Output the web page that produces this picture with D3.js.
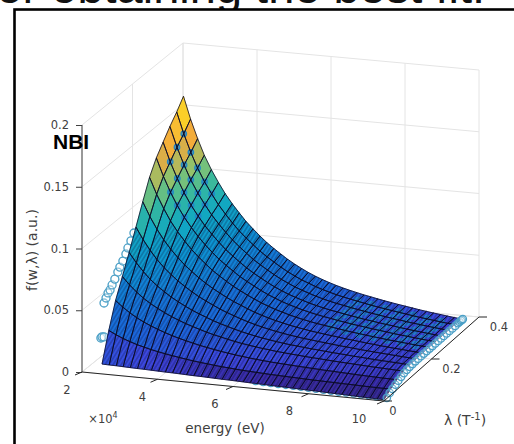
<!DOCTYPE html>
<html>
<head>
<meta charset="utf-8">
<script src="https://cdn.jsdelivr.net/npm/d3@7"></script>
<style>
  html, body { margin: 0; padding: 0; background: #fff; }
  text { font-family: "DejaVu Sans", sans-serif; }
</style>
</head>
<body>
<div id="chart"></div>
<script>
// Axis ticks
const energyTicks = [2, 4, 6, 8, 10];
const lambdaTicks = [0, 0.2, 0.4];
const fTicks = [0, 0.05, 0.1, 0.15, 0.2];

// Surface grid: energy (x 10^4 eV) and lambda (1/T)
const energies = [2.53, 2.72, 2.91, 3.09, 3.28, 3.47, 3.65, 3.84, 4.03, 4.21, 4.40, 4.59, 4.77, 4.96, 5.15, 5.33, 5.52, 5.71, 5.89, 6.08, 6.27, 6.45, 6.64, 6.83, 7.01, 7.20, 7.39, 7.58, 7.76, 7.95, 8.14, 8.32, 8.51, 8.70, 8.88, 9.07, 9.26, 9.45, 9.63, 9.82, 10.0];
const lambdas = [0, 0.027, 0.054, 0.081, 0.108, 0.135, 0.162, 0.189, 0.216, 0.243, 0.27, 0.297, 0.324];

// Surface height f(w, lambda), one list per lambda
const f00 = [.0080,.0078,.0077,.0075,.0073,.0071,.0070,.0068,.0066,.0064,.0063,.0061,.0059,.0057,.0056,.0054,.0052,.0050,.0049,.0047,.0045,.0043,.0042,.0040,.0038,.0036,.0035,.0033,.0031,.0029,.0028,.0026,.0024,.0022,.0021,.0019,.0017,.0015,.0014,.0012,.0010];
const f01 = [.0307,.0278,.0253,.0233,.0214,.0199,.0185,.0173,.0162,.0152,.0143,.0134,.0126,.0119,.0113,.0107,.0101,.0097,.0092,.0088,.0085,.0082,.0079,.0076,.0074,.0072,.0070,.0068,.0066,.0064,.0063,.0061,.0060,.0058,.0057,.0056,.0054,.0053,.0052,.0051,.0050];
const f02 = [.0505,.0457,.0416,.0382,.0352,.0326,.0304,.0283,.0264,.0248,.0233,.0219,.0206,.0195,.0184,.0174,.0165,.0157,.0150,.0143,.0137,.0132,.0127,.0123,.0120,.0116,.0113,.0110,.0107,.0104,.0101,.0099,.0096,.0094,.0091,.0089,.0087,.0085,.0083,.0082,.0080];
const f03 = [.0654,.0592,.0539,.0495,.0456,.0423,.0394,.0367,.0343,.0322,.0303,.0285,.0268,.0253,.0240,.0227,.0215,.0204,.0195,.0187,.0179,.0173,.0166,.0161,.0156,.0152,.0147,.0143,.0140,.0136,.0132,.0129,.0126,.0123,.0120,.0117,.0114,.0112,.0109,.0107,.0105];
const f04 = [.0804,.0726,.0659,.0603,.0554,.0512,.0475,.0442,.0411,.0384,.0360,.0337,.0316,.0297,.0280,.0264,.0249,.0236,.0224,.0213,.0204,.0195,.0187,.0180,.0175,.0169,.0163,.0159,.0154,.0149,.0145,.0141,.0136,.0133,.0129,.0125,.0122,.0119,.0116,.0113,.0110];
const f05 = [.0965,.0869,.0787,.0718,.0658,.0606,.0561,.0520,.0482,.0449,.0419,.0391,.0365,.0342,.0321,.0301,.0283,.0266,.0252,.0239,.0227,.0217,.0207,.0199,.0191,.0185,.0178,.0172,.0166,.0160,.0155,.0150,.0144,.0140,.0135,.0131,.0127,.0123,.0119,.0115,.0112];
const f06 = [.1125,.1011,.0913,.0833,.0761,.0699,.0645,.0597,.0552,.0513,.0477,.0444,.0414,.0386,.0361,.0338,.0315,.0296,.0279,.0264,.0250,.0237,.0226,.0216,.0207,.0199,.0191,.0184,.0177,.0170,.0164,.0158,.0151,.0146,.0140,.0135,.0130,.0126,.0121,.0117,.0113];
const f07 = [.1278,.1146,.1035,.0941,.0859,.0788,.0726,.0670,.0619,.0573,.0532,.0494,.0459,.0428,.0398,.0372,.0346,.0324,.0304,.0287,.0270,.0256,.0243,.0231,.0221,.0212,.0203,.0195,.0186,.0178,.0171,.0164,.0157,.0151,.0144,.0139,.0133,.0128,.0122,.0118,.0113];
const f08 = [.1390,.1246,.1123,.1021,.0930,.0852,.0785,.0723,.0667,.0617,.0573,.0531,.0492,.0458,.0426,.0396,.0368,.0344,.0322,.0303,.0285,.0270,.0255,.0243,.0232,.0222,.0211,.0202,.0193,.0185,.0177,.0169,.0162,.0155,.0147,.0141,.0135,.0129,.0123,.0118,.0113];
const f09 = [.1473,.1319,.1189,.1080,.0983,.0900,.0828,.0763,.0703,.0650,.0603,.0558,.0517,.0480,.0446,.0415,.0385,.0359,.0336,.0316,.0297,.0280,.0265,.0251,.0239,.0229,.0218,.0208,.0199,.0189,.0181,.0173,.0165,.0158,.0150,.0143,.0136,.0130,.0124,.0118,.0113];
const f10 = [.1555,.1392,.1254,.1138,.1036,.0948,.0871,.0802,.0739,.0683,.0632,.0585,.0541,.0502,.0466,.0433,.0401,.0374,.0349,.0328,.0308,.0290,.0274,.0259,.0247,.0236,.0224,.0214,.0204,.0194,.0185,.0176,.0168,.0161,.0152,.0145,.0138,.0131,.0125,.0119,.0113];
const f11 = [.1627,.1456,.1311,.1189,.1082,.0990,.0909,.0837,.0770,.0711,.0658,.0608,.0563,.0522,.0484,.0449,.0416,.0387,.0361,.0339,.0317,.0299,.0282,.0267,.0254,.0242,.0230,.0219,.0208,.0198,.0189,.0180,.0171,.0163,.0154,.0146,.0139,.0132,.0125,.0119,.0113];
const f12 = [.1710,.1530,.1377,.1248,.1136,.1038,.0953,.0876,.0807,.0744,.0688,.0635,.0588,.0545,.0505,.0468,.0434,.0403,.0376,.0351,.0329,.0310,.0292,.0276,.0262,.0249,.0236,.0225,.0214,.0203,.0193,.0184,.0175,.0166,.0157,.0149,.0141,.0134,.0127,.0120,.0114];
const surfaceRows = [f00, f01, f02, f03, f04, f05, f06, f07, f08, f09, f10, f11, f12];

// Measured points along the low-energy side of the surface
const leftE = [2.5, 2.53, 2.53, 2.53, 2.53, 2.53, 2.53, 2.53, 2.53, 2.53, 2.53, 2.53, 2.53, 2.53, 2.53, 2.53];
const leftLam = [0, 0, 0.008, 0.008, 0.016, 0.024, 0.032, 0.04, 0.051, 0.063, 0.071, 0.083, 0.095, 0.103, 0.115, 0.127];
const leftF = [.029, .030, .0286, .0561, .0588, .0616, .0627, .0654, .0683, .072, .0747, .0776, .0813, .0849, .0886, .093];

// Measured points along the high-energy side
const edgeE = [10.05, 10.05, 10.05, 10.05, 10.05, 10.05, 10.05, 10.05, 10.05, 10.05, 10.05, 10.05, 10.05, 10.05, 10.05, 10.05, 10.05, 10.05, 10.05, 10.05, 10.05, 10.05, 10.05, 10.05, 10.05, 10.05, 10.05, 10.05, 10.05, 10.05];
const edgeLam = [0.004, 0.016, 0.028, 0.04, 0.052, 0.064, 0.076, 0.088, 0.1, 0.112, 0.124, 0.136, 0.148, 0.16, 0.172, 0.184, 0.196, 0.208, 0.22, 0.232, 0.244, 0.256, 0.268, 0.28, 0.292, 0.304, 0.31, 0.316, 0.32, 0.324];
const edgeF = [.002, .004, .0052, .0065, .0078, .0088, .0098, .0104, .0108, .011, .0112, .0112, .0113, .0113, .0113, .0113, .0113, .0113, .0113, .0113, .0113, .0113, .0113, .0113, .0113, .0114, .0114, .0114, .0114, .0114];

// Measured points along the front edge
const frontE = [6.6, 6.8, 7.0, 7.2, 7.4, 7.6, 7.8, 8.0, 8.2, 8.4, 8.6, 8.8, 9.0, 9.2, 9.4, 9.6, 9.8];
const frontF = [.0062, .0060, .0058, .0056, .0055, .0053, .0051, .0049, .0047, .0045, .0043, .0041, .0040, .0038, .0036, .0034, .0032];

// Measured points poking through the surface near the peak
const peakE = [2.72, 2.91, 3.09, 3.28, 3.47, 2.72, 2.91, 3.09, 3.28, 3.47, 2.72, 2.91, 3.09, 3.28, 3.47, 2.91, 3.09, 3.28];
const peakLam = [0.297, 0.297, 0.297, 0.297, 0.297, 0.27, 0.27, 0.27, 0.27, 0.27, 0.243, 0.243, 0.243, 0.243, 0.243, 0.216, 0.216, 0.216];
const peakF = [.1456, .1311, .1189, .1082, .099, .1392, .1254, .1138, .1036, .0948, .1319, .1189, .108, .0983, .09, .1123, .1021, .093];

// Measured points poking through near the far high-energy corner
const farE = [7.39, 7.76, 8.14, 8.51, 8.88, 9.26, 9.63];
const farLam = [0.189, 0.216, 0.243, 0.27, 0.297];
const farF = [
  [.0203, .0186, .0171, .0157, .0144, .0133, .0122],
  [.0211, .0193, .0177, .0162, .0147, .0135, .0123],
  [.0218, .0199, .0181, .0165, .015, .0136, .0124],
  [.0224, .0204, .0185, .0168, .0152, .0138, .0125],
  [.023, .0208, .0189, .0171, .0154, .0139, .0125]
];

// Colour ramp of the surface, as seen in the picture
const rampF = [0, 0.006, 0.013, 0.03, 0.05, 0.07, 0.09, 0.105, 0.12, 0.14, 0.155, 0.171];
const rampColor = ["#352a87", "#3a2ba8", "#3c48e0", "#1a68dc", "#1578d8", "#0d94d4", "#12a8c0", "#35b8a0", "#88c470", "#f2a83c", "#fcc52e", "#f9fb0e"];

const width = 514;
const height = 444;

// Declare the scales: 0..1 along each floor edge, pixels for the height.
const u = d3.scaleLinear([2, 10], [0, 1]);
const v = d3.scaleLinear([0, 0.4], [0, 1]);
const zY = d3.scaleLinear([0, 0.2], [372, 125]);
const color = d3.scaleLinear(rampF, rampColor);

// Oblique view with a touch of perspective on the floor.
function project(e, lam, f) {
  const a = u(e), b = v(lam);
  return [82 + 302 * a + 101 * b - 6 * a * b, zY(f) + 29 * a - 82 * b - 2 * a * b];
}

const svg = d3.select("#chart").append("svg")
  .attr("width", width)
  .attr("height", height)
  .attr("viewBox", [0, 0, width, height])
  .style("display", "block");

// Fine hatching of the very dense mesh.
const hatch = svg.append("defs").append("pattern")
  .attr("id", "hatch")
  .attr("patternUnits", "userSpaceOnUse")
  .attr("width", 4).attr("height", 7)
  .attr("patternTransform", "skewX(-32)");
hatch.append("path").attr("d", "M1,0V7").attr("stroke", "#06062a").attr("stroke-width", 1.1).attr("stroke-opacity", 0.42);

// Caption of the slide the figure was cut from, mostly above the frame.
svg.append("text")
  .attr("x", 485).attr("y", 3)
  .attr("text-anchor", "end")
  .attr("fill", "#111")
  .style("font-family", "'Liberation Sans', sans-serif")
  .style("font-size", "47px")
  .text("or obtaining the best fit.");

svg.append("rect")
  .attr("x", 14.5).attr("y", 9.5)
  .attr("width", width + 20).attr("height", height + 20)
  .attr("fill", "#fff")
  .attr("stroke", "#000")
  .attr("stroke-width", 2.6);

const line = d3.line();

// Grid on the floor and the two back walls.
const grid = svg.append("g").attr("fill", "none").attr("stroke", "#e4e4e4").attr("stroke-width", 1);
energyTicks.forEach(e => {
  grid.append("path").attr("d", line([project(e, 0.4, 0), project(e, 0.4, 0.2)]));
  grid.append("path").attr("d", line([project(e, 0, 0), project(e, 0.4, 0)]));
});
lambdaTicks.forEach(l => {
  grid.append("path").attr("d", line([project(2, l, 0), project(2, l, 0.2)]));
  grid.append("path").attr("d", line([project(2, l, 0), project(10, l, 0)]));
});
fTicks.forEach(f => {
  grid.append("path").attr("d", line([project(2, 0, f), project(2, 0.4, f), project(10, 0.4, f)]));
});

// Circles that sit behind the surface.
const markerColor = "#4a9fc6";
const markersBack = svg.append("g").attr("fill", "#fff").attr("fill-opacity", 0.4).attr("stroke", markerColor).attr("stroke-width", 1.3);
leftE.forEach((e, i) => {
  const [px, py] = project(e, leftLam[i], leftF[i]);
  markersBack.append("circle").attr("cx", px).attr("cy", py).attr("r", 4);
});
frontE.forEach((e, i) => {
  const [px, py] = project(e, 0, frontF[i]);
  markersBack.append("circle").attr("cx", px).attr("cy", py).attr("r", 3.7);
});

// Surface cells, far rows first so that nearer cells paint over them.
const cells = [];
for (let r = lambdas.length - 2; r >= 0; r--) {
  for (let c = 0; c < energies.length - 1; c++) {
    const corners = [[c, r], [c + 1, r], [c + 1, r + 1], [c, r + 1]];
    cells.push({
      mean: d3.mean(corners, ([i, j]) => surfaceRows[j][i]),
      d: line(corners.map(([i, j]) => project(energies[i], lambdas[j], surfaceRows[j][i]))) + "Z"
    });
  }
}

svg.append("g").selectAll("path").data(cells).join("path")
  .attr("fill", d => color(d.mean))
  .attr("stroke", d => color(d.mean))
  .attr("stroke-width", 0.5)
  .attr("d", d => d.d);

// Circles that show through the surface.
const markersInner = svg.append("g").attr("fill", "#1f82d0").attr("fill-opacity", 0.7).attr("stroke", "#2088c8").attr("stroke-width", 1.2);
peakE.forEach((e, i) => {
  const [px, py] = project(e, peakLam[i], peakF[i]);
  markersInner.append("circle").attr("cx", px).attr("cy", py).attr("r", 2.8);
});
farLam.forEach((l, j) => farE.forEach((e, i) => {
  const [px, py] = project(e, l, farF[j][i]);
  markersInner.append("circle").attr("cx", px).attr("cy", py).attr("r", 3.6);
}));

// Hatch only where the mesh gets tight, then the mesh lines on top.
svg.append("g").selectAll("path").data(cells.filter(d => d.mean < 0.085)).join("path")
  .attr("fill", "url(#hatch)")
  .attr("d", d => d.d);

svg.append("g").selectAll("path").data(cells).join("path")
  .attr("fill", "none")
  .attr("stroke", "#0a0a26")
  .attr("stroke-width", 0.8)
  .attr("stroke-linejoin", "round")
  .attr("d", d => d.d);

// Circles hugging the high-energy edge stay in front.
const markersEdge = svg.append("g").attr("fill", "#fff").attr("fill-opacity", 0.25).attr("stroke", markerColor).attr("stroke-width", 1.3);
edgeE.forEach((e, i) => {
  const [px, py] = project(e, edgeLam[i], edgeF[i]);
  markersEdge.append("circle").attr("cx", px).attr("cy", py).attr("r", 3.7);
});

// Height axis.
const axisInk = "#404040";
const zAxis = svg.append("g")
  .attr("transform", "translate(82,0)")
  .call(d3.axisLeft(zY).tickValues(fTicks).tickFormat(d => String(d)).tickSize(6).tickPadding(7));
zAxis.select(".domain").attr("stroke", axisInk).attr("d", "M0,125V372");
zAxis.selectAll(".tick line").attr("stroke", axisInk);
zAxis.selectAll(".tick text").attr("fill", axisInk).style("font-size", "11.5px");

// Energy and lambda axes along the floor.
const axes = svg.append("g").attr("fill", "none").attr("stroke", "#262626").attr("stroke-width", 1);
axes.append("path").attr("d", line([project(2, 0, 0), project(10, 0, 0), project(10, 0.4, 0)]));
energyTicks.forEach(e => {
  const [px, py] = project(e, 0, 0);
  axes.append("path").attr("d", line([[px, py], [px - 7, py + 3]]));
});
lambdaTicks.forEach(l => {
  const [px, py] = project(10, l, 0);
  axes.append("path").attr("d", line([[px, py], [px + 8, py]]));
});

const labels = svg.append("g").attr("fill", axisInk).style("font-size", "11.5px").attr("text-anchor", "middle").attr("dominant-baseline", "middle");
const energyLabelDx = [-15, -15, -18, -19, -25];
energyTicks.forEach((e, i) => {
  const [px, py] = project(e, 0, 0);
  labels.append("text").attr("x", px + energyLabelDx[i]).attr("y", py + 18).text(e);
});
lambdaTicks.forEach(l => {
  const [px, py] = project(10, l, 0);
  labels.append("text").attr("x", px + (l === 0 ? 9 : 20)).attr("y", py + 10).text(l);
});

labels.append("text").attr("x", 225).attr("y", 429).style("font-size", "13.5px").text("energy (eV)");
labels.append("text").attr("transform", "translate(33,250) rotate(-90)").style("font-size", "14px").text("f(w,\u03bb) (a.u.)");

const multiplier = labels.append("text").attr("x", 103).attr("y", 419);
multiplier.append("tspan").text("\u00d710");
multiplier.append("tspan").attr("dy", -4).style("font-size", "8px").text("4");

const lambdaLabel = labels.append("text").attr("x", 465).attr("y", 421).style("font-size", "14px");
lambdaLabel.append("tspan").text("\u03bb (T");
lambdaLabel.append("tspan").attr("dy", -4).style("font-size", "10px").text("-1");
lambdaLabel.append("tspan").attr("dy", 4).text(")");

svg.append("text")
  .attr("x", 53).attr("y", 149)
  .attr("fill", "#000")
  .style("font-family", "'Liberation Sans', sans-serif")
  .style("font-weight", "bold")
  .style("font-size", "21px")
  .text("NBI");
</script>
</body>
</html>
